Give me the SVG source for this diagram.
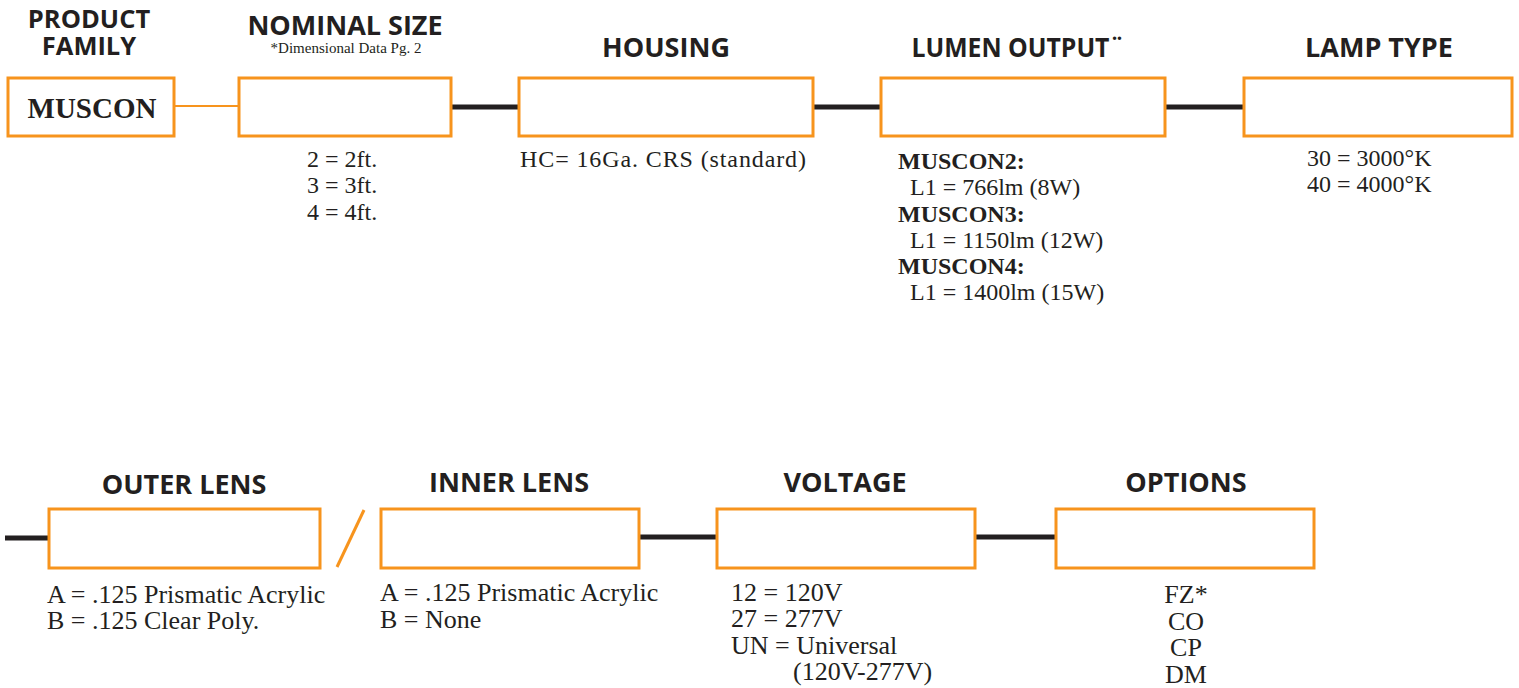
<svg xmlns="http://www.w3.org/2000/svg" width="1519" height="688" viewBox="0 0 1519 688">
<style>
.box{fill:#fff;stroke:#F7941D;stroke-width:3}
.conn{stroke:#231F20;stroke-width:5;fill:none}
.thin{stroke:#F7941D;stroke-width:2;fill:none}
.h{font-family:"Open Sans","Liberation Sans",sans-serif;font-weight:700;font-size:27px;fill:#231F20;text-anchor:middle}
.hc{font-family:"Open Sans","Liberation Sans",sans-serif;font-weight:700;font-size:27px;fill:#231F20;text-anchor:middle}
.t{font-family:"Liberation Serif",serif;font-size:24px;fill:#231F20}
.tc{font-family:"Liberation Serif",serif;font-size:26px;fill:#231F20}
.b{font-weight:700}
.m{text-anchor:middle}
</style>
<rect width="1519" height="688" fill="#fff"/>
<g id="connectors">
<line class="thin" x1="174" y1="106" x2="239" y2="106"/>
<line class="conn" x1="452" y1="107" x2="519" y2="107"/>
<line class="conn" x1="814" y1="107" x2="880" y2="107"/>
<line class="conn" x1="1166" y1="107" x2="1244" y2="107"/>
<line class="conn" x1="5" y1="538" x2="49" y2="538"/>
<line class="thin" x1="337" y1="567" x2="364" y2="510" style="stroke-width:3"/>
<line class="conn" x1="640" y1="537" x2="716" y2="537"/>
<line class="conn" x1="976" y1="537" x2="1055" y2="537"/>
</g>
<g id="product-family">
<text class="h" style="font-size:25.5px"><tspan x="89" y="28">PRODUCT</tspan><tspan x="89" y="55">FAMILY</tspan></text>
<rect class="box" x="8" y="78" width="166" height="58"/>
<text class="t b m" x="92" y="118" style="font-size:29px">MUSCON</text>
</g>
<g id="nominal-size">
<text class="h" x="345" y="35">NOMINAL SIZE</text>
<text class="t m" x="346" y="53" style="font-size:15px">*Dimensional Data Pg. 2</text>
<rect class="box" x="239" y="78" width="212" height="58"/>
<text class="t" x="307" y="167">2 = 2ft.</text>
<text class="t" x="307" y="193">3 = 3ft.</text>
<text class="t" x="307" y="220">4 = 4ft.</text>
</g>
<g id="housing">
<text class="h" x="666" y="57">HOUSING</text>
<rect class="box" x="519" y="78" width="294" height="58"/>
<text class="t" x="520" y="167" textLength="286" lengthAdjust="spacing">HC= 16Ga. CRS (standard)</text>
</g>
<g id="lumen-output">
<text class="h" x="1018" y="57" textLength="213" lengthAdjust="spacingAndGlyphs">LUMEN OUTPUT¨</text>
<rect class="box" x="881" y="78" width="284" height="58"/>
<text class="t b" x="898" y="169">MUSCON2:</text>
<text class="t" x="910" y="195">L1 = 766lm (8W)</text>
<text class="t b" x="898" y="222">MUSCON3:</text>
<text class="t" x="910" y="248">L1 = 1150lm (12W)</text>
<text class="t b" x="898" y="274">MUSCON4:</text>
<text class="t" x="910" y="300">L1 = 1400lm (15W)</text>
</g>
<g id="lamp-type">
<text class="h" x="1379" y="57">LAMP TYPE</text>
<rect class="box" x="1244" y="78" width="268" height="58"/>
<text class="t" x="1307" y="166">30 = 3000°K</text>
<text class="t" x="1307" y="192">40 = 4000°K</text>
</g>
<g id="outer-lens">
<text class="hc" x="184" y="494">OUTER LENS</text>
<rect class="box" x="49" y="509" width="271" height="59"/>
<text class="tc" x="47" y="603">A = .125 Prismatic Acrylic</text>
<text class="tc" x="47" y="629">B = .125 Clear Poly.</text>
</g>
<g id="inner-lens">
<text class="hc" x="509" y="492">INNER LENS</text>
<rect class="box" x="381" y="509" width="258" height="59"/>
<text class="tc" x="380" y="601">A = .125 Prismatic Acrylic</text>
<text class="tc" x="380" y="628">B = None</text>
</g>
<g id="voltage">
<text class="hc" x="845" y="492">VOLTAGE</text>
<rect class="box" x="717" y="509" width="258" height="59"/>
<text class="tc" x="731" y="601">12 = 120V</text>
<text class="tc" x="731" y="627">27 = 277V</text>
<text class="tc" x="731" y="654">UN = Universal</text>
<text class="tc" x="793" y="680">(120V-277V)</text>
</g>
<g id="options">
<text class="hc" x="1186" y="492">OPTIONS</text>
<rect class="box" x="1056" y="509" width="258" height="59"/>
<text class="tc m" x="1186" y="603">FZ*</text>
<text class="tc m" x="1186" y="630">CO</text>
<text class="tc m" x="1186" y="656">CP</text>
<text class="tc m" x="1186" y="683">DM</text>
</g>
</svg>
